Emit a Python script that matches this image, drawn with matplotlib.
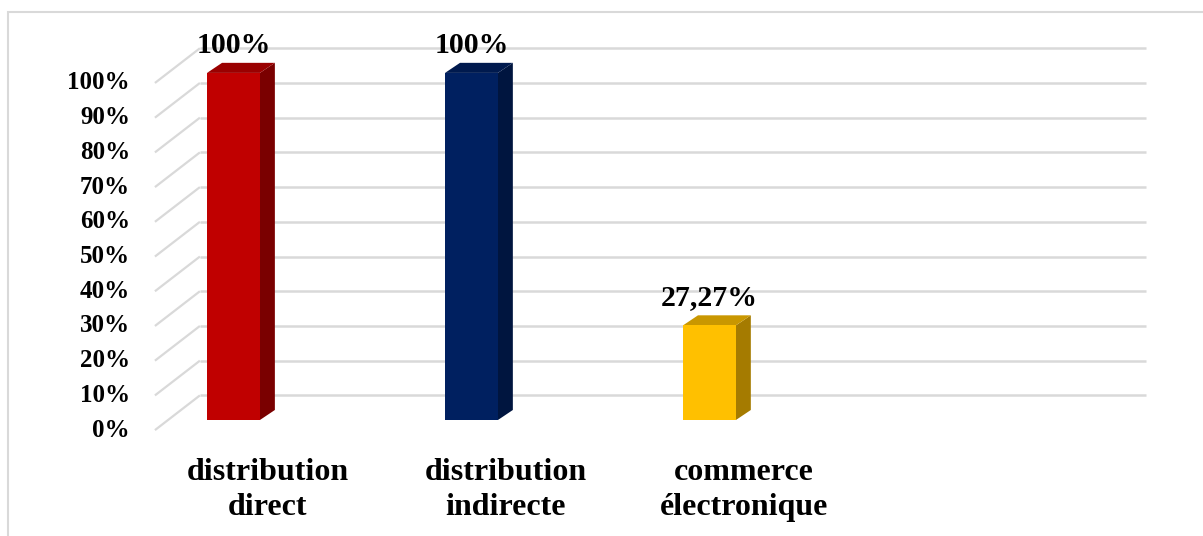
import matplotlib.pyplot as plt
from matplotlib.patches import Polygon, Rectangle

categories = ['distribution\ndirect', 'distribution\nindirecte', 'commerce\nélectronique']
values = [100, 100, 27.27]
value_labels = ['100%', '100%', '27,27%']
ticks = [0, 10, 20, 30, 40, 50, 60, 70, 80, 90, 100]

front_colors = ['#c00000', '#002060', '#ffc000']
top_colors = ['#9a0000', '#001a4e', '#c99700']
side_colors = ['#7a0000', '#00153f', '#a57b00']

plt.rcParams['font.family'] = ['Liberation Serif', 'DejaVu Serif']
plt.rcParams['font.weight'] = 'bold'

# 3D look: floor/wall depth and the bar's own depth, in data units
WALL_DX, WALL_DY = 0.189, 10.0
WALL_X0, WALL_X1 = -0.475, 3.689
BAR_X0, BAR_W = -0.256, 0.222
BAR_DX, BAR_DY = 0.063, 2.9
BAR_BASE = 2.9
GRID = '#d9d9d9'

fig = plt.figure(figsize=(12.03, 5.36), dpi=100)
ax = fig.add_axes([0, 0, 1, 1])
ax.set_xlim(-1.126, 3.929)
ax.set_ylim(-30.5, 123.9)
ax.axis('off')

# outer chart border
fig.patches.append(Rectangle((8 / 1203, -0.05), 1.2, 1.05 - 12 / 536, transform=fig.transFigure,
                             fill=False, edgecolor='#d9d9d9', linewidth=1.5))

# gridlines on the side wall (diagonal) and back wall (horizontal)
for t in ticks:
    ax.plot([WALL_X0, WALL_X0 + WALL_DX], [t, t + WALL_DY], color=GRID, lw=1.6, zorder=1,
            solid_capstyle='butt')
    ax.plot([WALL_X0 + WALL_DX, WALL_X1], [t + WALL_DY, t + WALL_DY], color=GRID, lw=1.8, zorder=1,
            solid_capstyle='butt')
    ax.text(-0.58, t, f'{t}%', ha='right', va='center', fontsize=18, fontweight='bold')

for i, (v, lab) in enumerate(zip(values, value_labels)):
    x0 = i + BAR_X0
    x1 = x0 + BAR_W
    y0 = BAR_BASE
    y1 = BAR_BASE + v
    ax.add_patch(Polygon([(x1, y0), (x1 + BAR_DX, y0 + BAR_DY), (x1 + BAR_DX, y1 + BAR_DY), (x1, y1)],
                         closed=True, facecolor=side_colors[i], edgecolor='none', zorder=3))
    ax.add_patch(Polygon([(x0, y1), (x0 + BAR_DX, y1 + BAR_DY), (x1 + BAR_DX, y1 + BAR_DY), (x1, y1)],
                         closed=True, facecolor=top_colors[i], edgecolor='none', zorder=3))
    ax.add_patch(Rectangle((x0, y0), BAR_W, v, facecolor=front_colors[i], edgecolor='none', zorder=4))
    ax.annotate(lab, (x0 + BAR_W / 2, y1 + BAR_DY), xytext=(0, 3), textcoords='offset points',
                ha='center', va='bottom', fontsize=21.5, fontweight='bold', zorder=5)
    ax.text(i, -17.3, categories[i], ha='center', va='center', fontsize=23, fontweight='bold',
            linespacing=1.25)

fig.savefig('out.png', dpi=100)
